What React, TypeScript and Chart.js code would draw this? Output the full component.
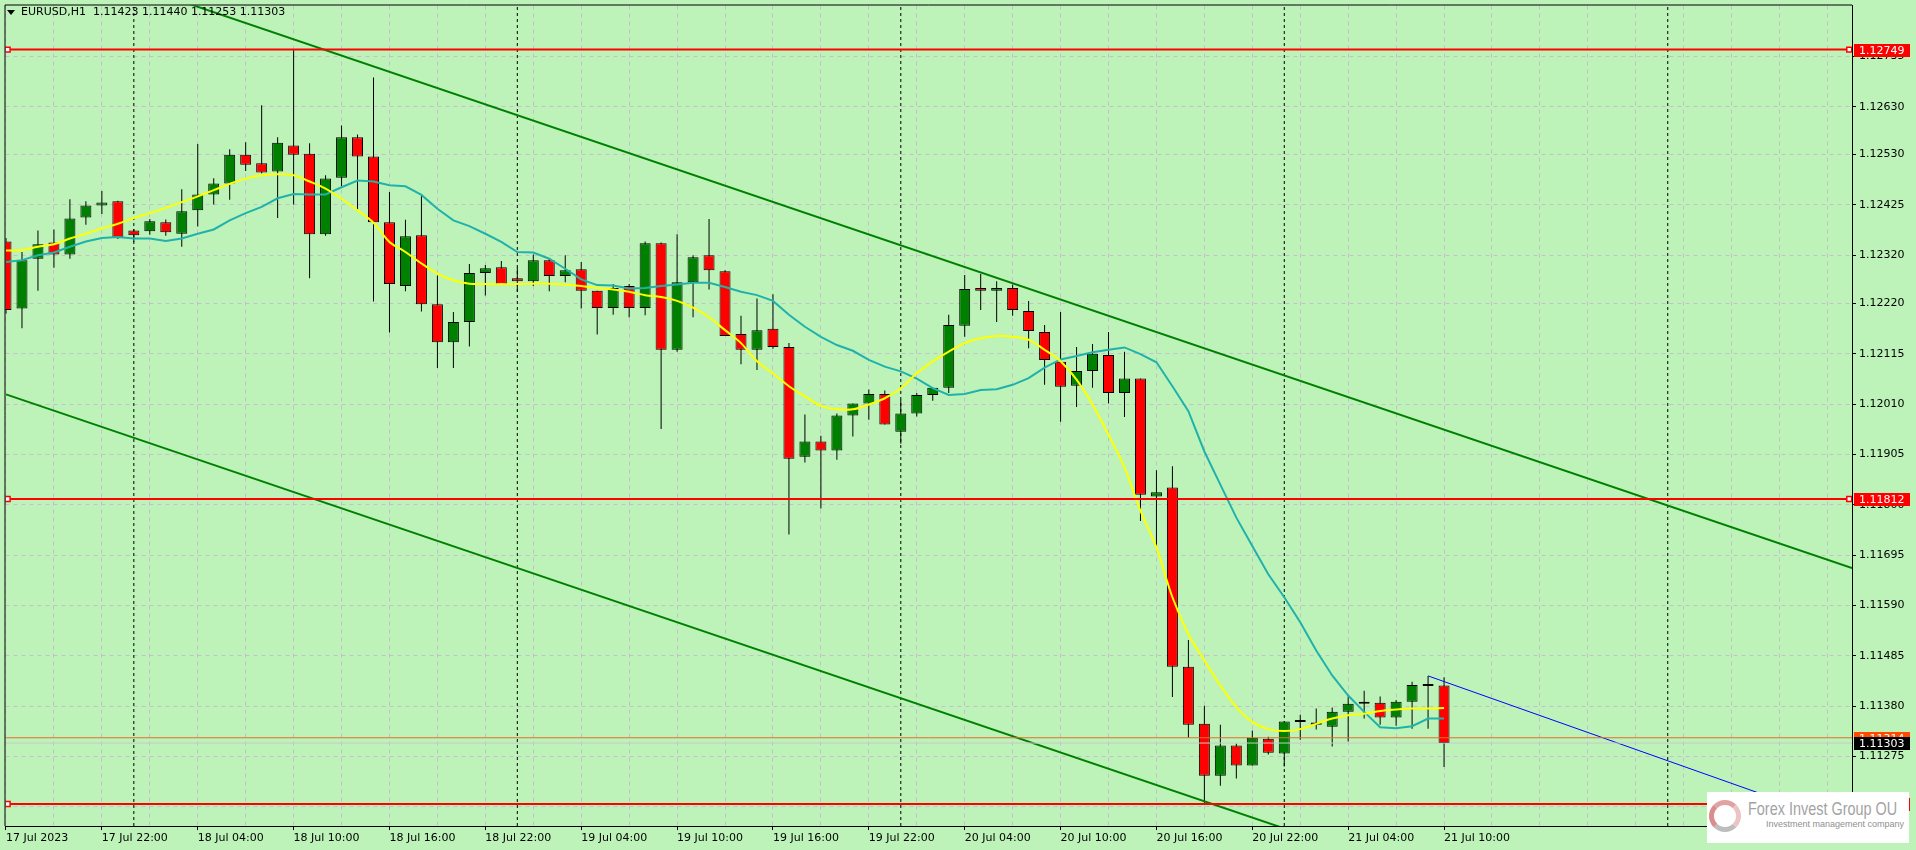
import { useEffect, useRef } from 'react';
import { Chart, registerables } from 'chart.js';

Chart.register(...registerables);

// ---------- header ----------
const symbolTitle = 'EURUSD,H1';
const headerOHLC = ['1.11423', '1.11440', '1.11253', '1.11303'];

// ---------- candles (bar index 0 = 17 Jul 16:00, hourly) ----------
const opens = [
  1.12349, 1.12209, 1.12313, 1.12347, 1.12322, 1.12399, 1.12424, 1.12433, 1.12372, 1.12370,
  1.12389, 1.12365, 1.12414, 1.12447, 1.12470, 1.12530, 1.12512, 1.12495, 1.12549, 1.12532,
  1.12364, 1.12482, 1.12566, 1.12526, 1.12389, 1.12256, 1.12362, 1.12218, 1.12139, 1.12181,
  1.12283, 1.12295, 1.12272, 1.12266, 1.12310, 1.12277, 1.12291, 1.12246, 1.12210, 1.12256,
  1.12210, 1.12345, 1.12123, 1.12264, 1.12320, 1.12287, 1.12156, 1.12123, 1.12167, 1.12129,
  1.11900, 1.11932, 1.11913, 1.11986, 1.12011, 1.12031, 1.11952, 1.11990, 1.12029, 1.12044,
  1.12173, 1.12252, 1.12246, 1.12252, 1.12204, 1.12160, 1.12098, 1.12048, 1.12079, 1.12112,
  1.12033, 1.12063, 1.11817, 1.11836, 1.11462, 1.11343, 1.11235, 1.11298, 1.11256, 1.11312,
  1.11281, 1.11347, 1.11346, 1.11337, 1.11368, 1.11385, 1.11387, 1.11356, 1.11389, 1.11422,
  1.11423,
];
const highs = [
  1.12356, 1.12327, 1.12372, 1.12374, 1.12437, 1.12433, 1.12454, 1.12434, 1.12375, 1.12396,
  1.12395, 1.12458, 1.12552, 1.12481, 1.12541, 1.12556, 1.12633, 1.12566, 1.12749, 1.12554,
  1.12487, 1.12591, 1.12572, 1.12691, 1.12452, 1.12394, 1.12444, 1.12278, 1.12202, 1.12302,
  1.12300, 1.12308, 1.12294, 1.12322, 1.12314, 1.12320, 1.12306, 1.12246, 1.12260, 1.12260,
  1.12349, 1.12347, 1.12364, 1.12320, 1.12396, 1.12289, 1.12194, 1.12230, 1.12239, 1.12137,
  1.11988, 1.11944, 1.11990, 1.12011, 1.12040, 1.12038, 1.12019, 1.12033, 1.12044, 1.12196,
  1.12279, 1.12281, 1.12266, 1.12259, 1.12225, 1.12175, 1.12202, 1.12129, 1.12135, 1.12160,
  1.12119, 1.12063, 1.11872, 1.11880, 1.11518, 1.11381, 1.11341, 1.11302, 1.11329, 1.11316,
  1.11348, 1.11362, 1.11375, 1.11377, 1.11400, 1.11412, 1.11400, 1.11393, 1.11431, 1.11443,
  1.11440,
];
const lows = [
  1.12198, 1.12168, 1.12246, 1.12294, 1.12313, 1.12384, 1.12406, 1.12354, 1.12348, 1.12363,
  1.12361, 1.12338, 1.12380, 1.12426, 1.12436, 1.12496, 1.12491, 1.12398, 1.12426, 1.12272,
  1.12361, 1.12464, 1.12415, 1.12224, 1.12159, 1.12245, 1.12203, 1.12085, 1.12085, 1.12130,
  1.12236, 1.12260, 1.12244, 1.12256, 1.12245, 1.12264, 1.12209, 1.12155, 1.12196, 1.12191,
  1.12195, 1.11958, 1.12119, 1.12191, 1.12249, 1.12152, 1.12093, 1.12081, 1.12125, 1.11738,
  1.11888, 1.11792, 1.11894, 1.11942, 1.11977, 1.11967, 1.11927, 1.11984, 1.12017, 1.12033,
  1.12150, 1.12206, 1.12181, 1.12194, 1.12126, 1.12050, 1.11973, 1.12004, 1.12044, 1.12011,
  1.11983, 1.11766, 1.11711, 1.11399, 1.11314, 1.11177, 1.11214, 1.11229, 1.11256, 1.11279,
  1.11254, 1.11310, 1.11331, 1.11296, 1.11306, 1.11354, 1.11341, 1.11339, 1.11333, 1.11333,
  1.11253,
];
const closes = [
  1.12206, 1.12310, 1.12343, 1.12322, 1.12397, 1.12424, 1.12430, 1.12356, 1.12362, 1.12391,
  1.12368, 1.12412, 1.12447, 1.12470, 1.12530, 1.12509, 1.12493, 1.12555, 1.12530, 1.12364,
  1.12480, 1.12566, 1.12526, 1.12389, 1.12260, 1.12360, 1.12218, 1.12139, 1.12181, 1.12283,
  1.12293, 1.12260, 1.12266, 1.12310, 1.12277, 1.12289, 1.12246, 1.12210, 1.12252, 1.12210,
  1.12345, 1.12123, 1.12264, 1.12316, 1.12289, 1.12152, 1.12123, 1.12164, 1.12129, 1.11896,
  1.11932, 1.11913, 1.11986, 1.12011, 1.12031, 1.11967, 1.11990, 1.12029, 1.12044, 1.12175,
  1.12250, 1.12246, 1.12252, 1.12206, 1.12162, 1.12102, 1.12046, 1.12079, 1.12115, 1.12033,
  1.12063, 1.11821, 1.11826, 1.11462, 1.11341, 1.11235, 1.11298, 1.11256, 1.11314, 1.11283,
  1.11348, 1.11347, 1.11341, 1.11368, 1.11385, 1.11389, 1.11356, 1.11389, 1.11424, 1.11422,
  1.11303,
];

// ---------- indicator lines ----------
const yellowMA = [
  1.12330, 1.12331, 1.12338, 1.12343, 1.12355, 1.12365, 1.12376, 1.12386, 1.12398, 1.12408,
  1.12419, 1.12431, 1.12443, 1.12456, 1.12469, 1.12480, 1.12487, 1.12489, 1.12487, 1.12474,
  1.12459, 1.12438, 1.12414, 1.12388, 1.12348, 1.12327, 1.12303, 1.12282, 1.12268, 1.12261,
  1.12260, 1.12260, 1.12260, 1.12261, 1.12261, 1.12259, 1.12256, 1.12252, 1.12249, 1.12244,
  1.12237, 1.12233, 1.12225, 1.12211, 1.12191, 1.12164, 1.12137, 1.12099, 1.12074, 1.12047,
  1.12026, 1.12006, 1.11999, 1.11999, 1.12009, 1.12022, 1.12043, 1.12074, 1.12099, 1.12119,
  1.12137, 1.12147, 1.12152, 1.12150, 1.12144, 1.12123, 1.12099, 1.12061, 1.12009, 1.11946,
  1.11878, 1.11787, 1.11711, 1.11607, 1.11530, 1.11475, 1.11423, 1.11378, 1.11347, 1.11332,
  1.11328, 1.11332, 1.11343, 1.11354, 1.11361, 1.11364, 1.11370, 1.11373, 1.11375, 1.11375,
  1.11376,
];
const tealMA = [
  1.12306, 1.12310, 1.12320, 1.12326, 1.12338, 1.12349, 1.12356, 1.12358, 1.12355, 1.12355,
  1.12350, 1.12355, 1.12365, 1.12374, 1.12393, 1.12408, 1.12421, 1.12439, 1.12448, 1.12447,
  1.12447, 1.12462, 1.12476, 1.12474, 1.12466, 1.12464, 1.12446, 1.12417, 1.12393, 1.12381,
  1.12365, 1.12348, 1.12327, 1.12326, 1.12313, 1.12292, 1.12270, 1.12258, 1.12257, 1.12251,
  1.12252, 1.12256, 1.12259, 1.12263, 1.12263, 1.12254, 1.12244, 1.12237, 1.12225, 1.12196,
  1.12171, 1.12150, 1.12133, 1.12121, 1.12102, 1.12088, 1.12078, 1.12063, 1.12043, 1.12029,
  1.12031, 1.12039, 1.12041, 1.12050, 1.12064, 1.12086, 1.12103, 1.12110, 1.12118, 1.12123,
  1.12128, 1.12114, 1.12097, 1.12047, 1.11995, 1.11911, 1.11842, 1.11773, 1.11714, 1.11655,
  1.11607, 1.11555, 1.11496, 1.11444, 1.11402, 1.11368, 1.11336, 1.11334, 1.11338, 1.11354,
  1.11354,
];

// ---------- axes ----------
const timeLabelIdx = [0, 6, 12, 18, 24, 30, 36, 42, 48, 54, 60, 66, 72, 78, 84, 90];
const timeLabels = [
  '17 Jul 2023', '17 Jul 22:00', '18 Jul 04:00', '18 Jul 10:00', '18 Jul 16:00', '18 Jul 22:00',
  '19 Jul 04:00', '19 Jul 10:00', '19 Jul 16:00', '19 Jul 22:00', '20 Jul 04:00', '20 Jul 10:00',
  '20 Jul 16:00', '20 Jul 22:00', '21 Jul 04:00', '21 Jul 10:00',
];
const priceTicks = [
  1.12735, 1.1263, 1.1253, 1.12425, 1.1232, 1.1222, 1.12115, 1.1201, 1.11905, 1.118,
  1.11695, 1.1159, 1.11485, 1.1138, 1.11275, 1.1117,
];
const separatorIdx = [8, 32, 56, 80, 104];
const X_MIN = -0.03125;
const X_MAX = 115.53125;
const Y_MIN = 1.1113;
const Y_MAX = 1.12841;

// ---------- drawn objects ----------
const hLevels = [1.12749, 1.11812, 1.11176];
const orangeLevel = 1.11314;
const bidLevel = 1.11303;
const upperChannelX = [0, 115.53];
const upperChannelY = [1.12974, 1.11668];
const lowerChannelX = [0, 115.53];
const lowerChannelY = [1.1203, 1.10723];
const blueLineX = [89, 115.53];
const blueLineY = [1.11443, 1.1113];
const markerX = [0.1, 115.36];

const tagValues = [1.12749, 1.11812, 1.11176, 1.11314, 1.11303];
const tagBg = ['#FF0000', '#FF0000', '#FF0000', '#FF4A00', '#000000'];
const tagFg = ['#FFFFFF', '#FFFFFF', '#FFFFFF', '#FFFFFF', '#FFFFFF'];

const BG = '#BDF3B9';
const GRID = 'rgb(198,190,204)';
const FONT = '"DejaVu Sans", Verdana, sans-serif';

const gridIdx: number[] = [];
for (let i = 0; i <= 114; i += 3) gridIdx.push(i);

const mt4Overlay = {
  id: 'mt4Overlay',
  afterDraw(chart: any) {
    const { ctx, chartArea: a, scales } = chart;
    const y = scales.y;
    ctx.save();
    ctx.strokeStyle = '#000';
    ctx.lineWidth = 1;
    ctx.beginPath();
    ctx.moveTo(a.left - 0.5, a.bottom);
    ctx.lineTo(a.left - 0.5, a.top - 0.5);
    ctx.lineTo(a.right, a.top - 0.5);
    ctx.stroke();
    ctx.font = '11px ' + FONT;
    ctx.textBaseline = 'middle';
    ctx.textAlign = 'left';
    tagValues.forEach((v, k) => {
      const py = Math.round(y.getPixelForValue(v));
      ctx.fillStyle = tagBg[k];
      ctx.fillRect(a.right + 2, py - 6, 56, 13);
      ctx.fillStyle = tagFg[k];
      ctx.fillText(v.toFixed(5), a.right + 7, py + 1);
    });
    ctx.restore();
  },
};

function pts(xs: number[], ys: number[]) {
  return xs.map((x, i) => ({ x, y: ys[i] }));
}

export default function App() {
  const ref = useRef<HTMLCanvasElement>(null);

  useEffect(() => {
    const bodies = opens.map((o, i) => ({ x: i, y: [Math.min(o, closes[i]), Math.max(o, closes[i])] }));
    const bodyColors = opens.map((o, i) => (closes[i] >= o ? '#008000' : '#FF0000'));
    const wicks = lows.map((l, i) => ({ x: i, y: [l, highs[i]] }));

    const lineBase = { type: 'line', pointRadius: 0, fill: false, clip: 0, tension: 0 };

    const datasets: any[] = [];
    separatorIdx.forEach((s) => {
      datasets.push({
        ...lineBase,
        data: [{ x: s, y: Y_MIN }, { x: s, y: Y_MAX }],
        borderColor: '#000',
        borderWidth: 1,
        borderDash: [3, 3],
        order: 9,
      });
    });
    datasets.push({
      type: 'bar',
      data: wicks,
      backgroundColor: '#000',
      borderWidth: 0,
      barThickness: 1,
      grouped: false,
      inflateAmount: 0,
      order: 8,
    });
    datasets.push({
      type: 'bar',
      data: bodies,
      backgroundColor: bodyColors,
      borderColor: '#000',
      borderWidth: 1,
      borderSkipped: false,
      barThickness: 11,
      minBarLength: 2,
      grouped: false,
      inflateAmount: 0,
      order: 7,
    });
    datasets.push({
      ...lineBase,
      data: tealMA.map((v, i) => ({ x: i, y: v })),
      borderColor: '#20B2AA',
      borderWidth: 2,
      order: 6,
    });
    datasets.push({
      ...lineBase,
      data: yellowMA.map((v, i) => ({ x: i, y: v })),
      borderColor: '#FFFF00',
      borderWidth: 2,
      tension: 0.35,
      order: 5,
    });
    datasets.push({ ...lineBase, data: pts(upperChannelX, upperChannelY), borderColor: '#008000', borderWidth: 2, order: 4 });
    datasets.push({ ...lineBase, data: pts(lowerChannelX, lowerChannelY), borderColor: '#008000', borderWidth: 2, order: 4 });
    datasets.push({ ...lineBase, data: pts(blueLineX, blueLineY), borderColor: '#0000FF', borderWidth: 1, order: 4 });
    datasets.push({ ...lineBase, data: [{ x: X_MIN, y: orangeLevel }, { x: X_MAX, y: orangeLevel }], borderColor: 'rgb(226,110,44)', borderWidth: 1, order: 3 });
    datasets.push({ ...lineBase, data: [{ x: X_MIN, y: bidLevel }, { x: X_MAX, y: bidLevel }], borderColor: '#C8C8C8', borderWidth: 1, order: 3 });
    hLevels.forEach((h) => {
      datasets.push({ ...lineBase, data: [{ x: X_MIN, y: h }, { x: X_MAX, y: h }], borderColor: '#FF0000', borderWidth: 2, order: 2 });
      datasets.push({
        type: 'scatter',
        data: markerX.map((x) => ({ x, y: h })),
        pointStyle: 'rect',
        pointRadius: 3.5,
        pointBorderWidth: 1.5,
        pointBackgroundColor: '#FFFFFF',
        pointBorderColor: '#FF0000',
        showLine: false,
        clip: 0,
        order: 1,
      });
    });

    const chart = new Chart(ref.current as HTMLCanvasElement, {
      type: 'bar',
      data: { datasets },
      options: {
        responsive: false,
        animation: false,
        events: [],
        layout: { padding: { left: 3, top: 3, right: 0, bottom: 0 } },
        plugins: { legend: { display: false }, tooltip: { enabled: false }, title: { display: false } },
        scales: {
          x: {
            type: 'linear',
            min: X_MIN,
            max: X_MAX,
            offset: false,
            afterBuildTicks: (s: any) => {
              s.ticks = gridIdx.map((v) => ({ value: v }));
            },
            afterFit: (s: any) => {
              s.height = 24;
              s.paddingLeft = 0;
              s.paddingRight = 0;
            },
            grid: {
              offset: false,
              color: GRID,
              lineWidth: 1,
              drawTicks: true,
              tickLength: 4,
              tickBorderDash: [],
              tickColor: (c: any) => (c.tick && timeLabelIdx.includes(c.tick.value) ? '#000' : 'rgba(0,0,0,0)'),
            },
            border: { display: true, color: '#000', width: 1, dash: [4, 4] },
            ticks: {
              autoSkip: false,
              maxRotation: 0,
              minRotation: 0,
              align: 'start',
              padding: 2,
              color: '#000',
              font: { family: FONT, size: 11 },
              callback: (v: any) => {
                const k = timeLabelIdx.indexOf(Number(v));
                return k >= 0 ? timeLabels[k] : '';
              },
            },
          },
          y: {
            type: 'linear',
            position: 'right',
            min: Y_MIN,
            max: Y_MAX,
            beginAtZero: false,
            afterBuildTicks: (s: any) => {
              s.ticks = priceTicks.map((v) => ({ value: v }));
            },
            afterFit: (s: any) => {
              s.width = 64;
              s.paddingTop = 0;
              s.paddingBottom = 0;
            },
            grid: {
              color: GRID,
              lineWidth: 1,
              drawTicks: true,
              tickLength: 4,
              tickBorderDash: [],
              tickColor: '#000',
            },
            border: { display: true, color: '#000', width: 1, dash: [4, 4] },
            ticks: {
              autoSkip: false,
              padding: 3,
              color: '#000',
              font: { family: FONT, size: 11 },
              callback: (v: any) => Number(v).toFixed(5),
            },
          },
        },
      } as any,
      plugins: [mt4Overlay],
    } as any);
    return () => chart.destroy();
  }, []);

  return (
    <div style={{ position: 'fixed', left: 0, top: 0, width: 1916, height: 850, background: BG, overflow: 'hidden' }}>
      <canvas ref={ref} width={1916} height={850} style={{ display: 'block', width: 1916, height: 850 }} />
      <div
        style={{
          position: 'absolute', left: 7, top: 10, width: 0, height: 0,
          borderLeft: '4px solid transparent', borderRight: '4px solid transparent', borderTop: '5px solid #000',
        }}
      />
      <div
        style={{
          position: 'absolute', left: 21, top: 5, font: '11px ' + FONT, lineHeight: '14px',
          color: '#000', whiteSpace: 'pre',
        }}
      >
        {symbolTitle + '  ' + headerOHLC.join(' ')}
      </div>
      <div
        style={{
          position: 'absolute', left: 1707, top: 792, width: 202, height: 51, background: '#FFFFFF', overflow: 'hidden',
        }}
      >
        <div
          style={{
            position: 'absolute', left: 2, top: 8, width: 22, height: 22, borderRadius: '50%', borderStyle: 'solid', borderWidth: 5,
            borderColor: '#E2A2A2 #EBC4C4 #BDBDBD #D98E8E', background: '#FFFFFF',
          }}
        />
        <div
          style={{
            position: 'absolute', left: 41, top: 5, font: '19px "Liberation Sans", Arial, sans-serif', color: '#A3A3A3',
            whiteSpace: 'pre', transform: 'scaleX(0.76)', transformOrigin: 'left top', lineHeight: '24px',
          }}
        >
          Forex Invest Group OU
        </div>
        <div
          style={{
            position: 'absolute', left: 59, top: 27, font: '9px "Liberation Sans", Arial, sans-serif', color: '#8F8F8F',
            whiteSpace: 'pre', lineHeight: '11px',
          }}
        >
          Investment management company
        </div>
      </div>
    </div>
  );
}
